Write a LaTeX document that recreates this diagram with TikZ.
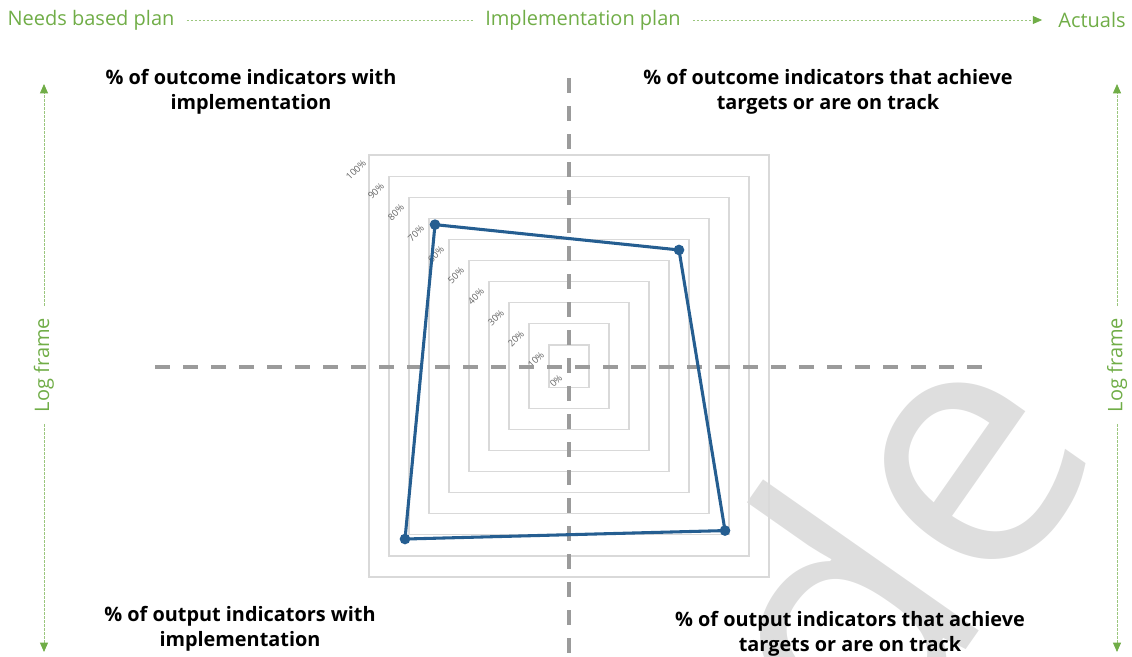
\documentclass[tikz,border=0pt]{standalone}
\usepackage{fontspec}
\setmainfont{Open Sans}
\usetikzlibrary{calc, positioning, arrows.meta}
\definecolor{planGreen}{RGB}{112,173,71}
\definecolor{chartBlue}{RGB}{37,94,145}
\definecolor{gridGray}{RGB}{217,217,217}
\definecolor{axisGray}{RGB}{155,155,155}

\begin{document}
\begin{tikzpicture}[x=0.75pt, y=-0.75pt,
    stage/.style=
    {text=planGreen, font=\fontsize{15}{18}\selectfont, inner xsep=9pt},
    quadrant/.style=
    {font=\bfseries\fontsize{14.9}{18.75}\selectfont, align=center},
    flow/.style=
    {draw=planGreen!70, line width=0.6pt, dash pattern=on 1.8pt off 1.2pt},
    tip/.style=
    {-{Triangle[length=7pt, width=6pt, color=planGreen]}, shorten >=3pt},
    ring/.style=
    {draw=gridGray, line width=0.9pt},
    axis/.style=
    {draw=axisGray, line width=3pt, dash pattern=on 11.25pt off 9.75pt},
    pct/.style=
    {text=black!60, font=\fontsize{7}{8}\selectfont, rotate=45, inner sep=0pt},
    node distance = .5cm]
    \useasboundingbox (0,0) rectangle (1132,657);
    % watermark behind the chart
    \begin{scope}
    \clip (0,0) rectangle (1132,657);
    \node (mark) [text=black!13, font=\fontsize{260}{260}\selectfont, rotate=55] at (825,625) {ode};
    \end{scope}
    % planning stages
    \node (needs) [stage] at (91,20) {Needs based plan};
    \node (impl) [stage] at (583,20) {Implementation plan};
    \node (actuals) [stage] at (1092,20) {Actuals};
    \draw[flow] (needs) -- (impl);
    \draw[flow, tip] (impl) -- (actuals);
    \node (frame left) [stage, rotate=90] at (44,365) {Log frame};
    \node (frame right) [stage, rotate=90] at (1117,365) {Log frame};
    \coordinate (left top) at (44,80);
    \coordinate (left bottom) at (44,656);
    \coordinate (right top) at (1117,80);
    \coordinate (right bottom) at (1117,656);
    \draw[flow, tip] (frame left.east) -- (left top);
    \draw[flow, tip] (frame left.west) -- (left bottom);
    \draw[flow, tip] (frame right.east) -- (right top);
    \draw[flow, tip] (frame right.west) -- (right bottom);
    % radar grid
    \coordinate (c) at (569,366);
    \foreach \r in {1,...,10}
        \draw[ring] ($(c)+(-20*\r,-21.1*\r)$) rectangle ($(c)+(20*\r,21.1*\r)$);
    \foreach \r [evaluate=\r as \v using int(10*\r)] in {0,...,10}
        \node[pct] at ($(c)+(-20*\r-13,-21.1*\r+15)$) {\v\%};
    % quadrant axes
    \coordinate (axis top) at (569,78);
    \coordinate (axis bottom) at (569,657);
    \coordinate (axis left) at (155,367);
    \coordinate (axis right) at (990,367);
    \draw[axis] (axis left) -- (axis right);
    \draw[axis] (axis top) -- (axis bottom);
    % indicator values
    \foreach \n/\sx/\sy/\p in {1/-1/-1/67, 2/1/-1/55, 3/1/1/78, 4/-1/1/82}
        \coordinate (p\n) at ($(c)+(\sx*2*\p,\sy*2.11*\p)$);
    \draw[chartBlue, line width=2.3pt, line join=round] (p1) -- (p2) -- (p3) -- (p4) -- cycle;
    \foreach \n in {1,...,4}
        \fill[chartBlue] (p\n) circle (4pt);
    % quadrant titles
    \node (outcome impl) [quadrant] at (251,92) {\% of outcome indicators with\\implementation};
    \node (outcome target) [quadrant] at (828,92) {\% of outcome indicators that achieve\\targets or are on track};
    \node (output impl) [quadrant] at (240,629) {\% of output indicators with\\implementation};
    \node (output target) [quadrant] at (850,634) {\% of output indicators that achieve\\targets or are on track};
\end{tikzpicture}
\end{document}
